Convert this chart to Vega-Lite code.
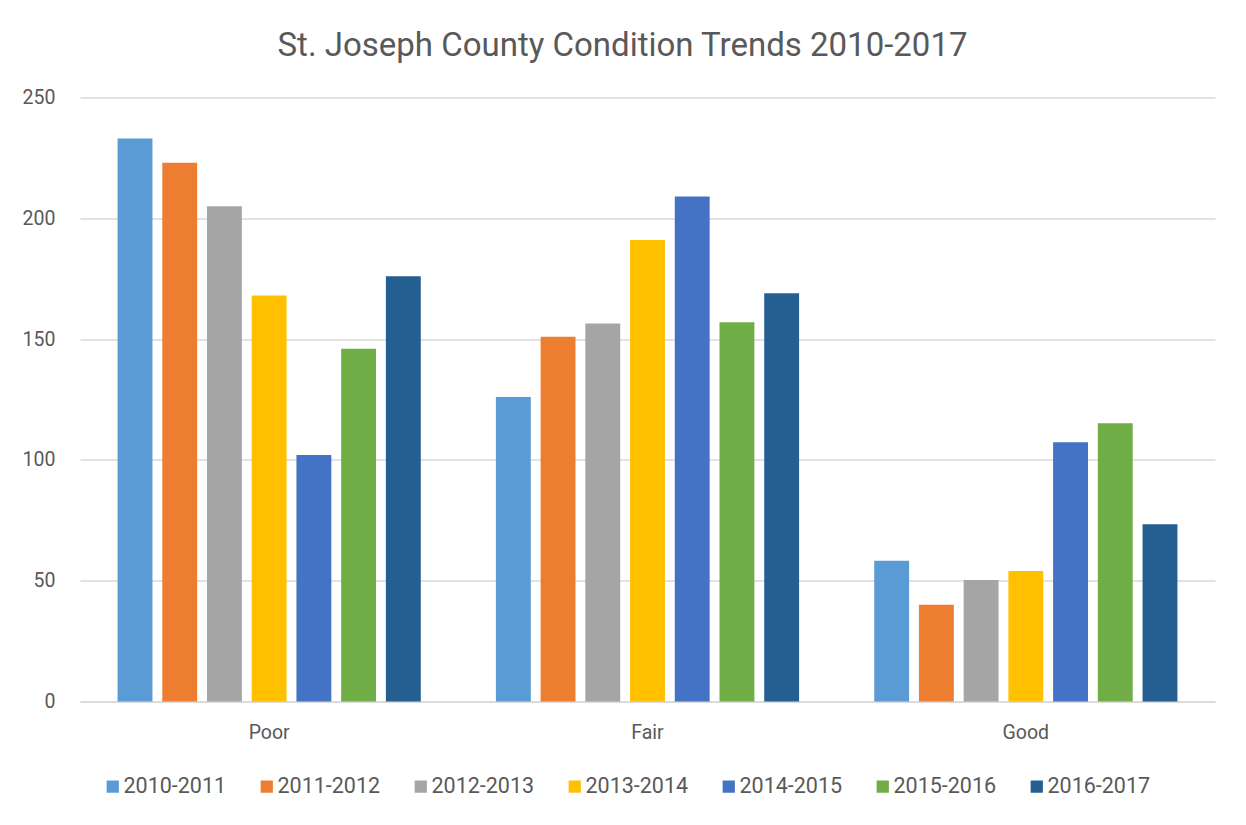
{
  "$schema": "https://vega.github.io/schema/vega-lite/v6.json",
  "width": 1135,
  "height": 604,
  "autosize": {"type": "none"},
  "padding": {"left": 80, "top": 97.5, "right": 31, "bottom": 123.5},
  "background": "white",
  "title": {
    "text": "St. Joseph County Condition Trends 2010-2017",
    "anchor": "middle",
    "frame": "group",
    "dx": -25,
    "offset": 25,
    "font": "Roboto",
    "fontSize": 33,
    "fontWeight": "normal",
    "color": "#595959"
  },
  "data": {
    "values": [
      {"condition": "Poor", "period": "2010-2011", "count": 233},
      {"condition": "Poor", "period": "2011-2012", "count": 223},
      {"condition": "Poor", "period": "2012-2013", "count": 205},
      {"condition": "Poor", "period": "2013-2014", "count": 168},
      {"condition": "Poor", "period": "2014-2015", "count": 102},
      {"condition": "Poor", "period": "2015-2016", "count": 146},
      {"condition": "Poor", "period": "2016-2017", "count": 176},
      {"condition": "Fair", "period": "2010-2011", "count": 126},
      {"condition": "Fair", "period": "2011-2012", "count": 151},
      {"condition": "Fair", "period": "2012-2013", "count": 156.5},
      {"condition": "Fair", "period": "2013-2014", "count": 191},
      {"condition": "Fair", "period": "2014-2015", "count": 209},
      {"condition": "Fair", "period": "2015-2016", "count": 157},
      {"condition": "Fair", "period": "2016-2017", "count": 169},
      {"condition": "Good", "period": "2010-2011", "count": 58.3},
      {"condition": "Good", "period": "2011-2012", "count": 40},
      {"condition": "Good", "period": "2012-2013", "count": 50.3},
      {"condition": "Good", "period": "2013-2014", "count": 54},
      {"condition": "Good", "period": "2014-2015", "count": 107.3},
      {"condition": "Good", "period": "2015-2016", "count": 115.2},
      {"condition": "Good", "period": "2016-2017", "count": 73.4}
    ]
  },
  "mark": {"type": "bar"},
  "encoding": {
    "x": {
      "field": "condition",
      "type": "nominal",
      "sort": ["Poor", "Fair", "Good"],
      "scale": {"paddingInner": 0, "paddingOuter": 0},
      "axis": {
        "title": null,
        "labelAngle": 0,
        "ticks": false,
        "tickSize": 0,
        "labelPadding": 22,
        "labelFont": "Roboto",
        "labelFontSize": 19.5,
        "labelColor": "#595959",
        "domainColor": "#d9d9d9",
        "domainWidth": 1.5,
        "grid": false
      }
    },
    "xOffset": {
      "field": "period",
      "type": "nominal",
      "scale": {"paddingInner": 0.22, "paddingOuter": 0.84}
    },
    "y": {
      "field": "count",
      "type": "quantitative",
      "scale": {"domain": [0, 250], "nice": false},
      "axis": {
        "title": null,
        "values": [0, 50, 100, 150, 200, 250],
        "domain": false,
        "ticks": false,
        "tickSize": 0,
        "labelPadding": 25,
        "labelFont": "Roboto",
        "labelFontSize": 19.5,
        "labelColor": "#595959",
        "gridColor": "#d9d9d9",
        "gridWidth": 1.3
      }
    },
    "color": {
      "field": "period",
      "type": "nominal",
      "scale": {
        "domain": ["2010-2011", "2011-2012", "2012-2013", "2013-2014", "2014-2015", "2015-2016", "2016-2017"],
        "range": ["#5B9BD5", "#ED7D31", "#A5A5A5", "#FFC000", "#4472C4", "#70AD47", "#255E91"]
      },
      "legend": {
        "title": null,
        "orient": "none",
        "direction": "horizontal",
        "columns": 7,
        "legendX": 22,
        "legendY": 678,
        "padding": 0,
        "columnPadding": 29,
        "symbolType": "square",
        "symbolSize": 150,
        "symbolStrokeWidth": 0,
        "labelOffset": 0,
        "labelFont": "Roboto",
        "labelFontSize": 21.5,
        "labelColor": "#595959",
        "labelLimit": 0
      }
    }
  },
  "config": {
    "view": {"stroke": null}
  }
}
